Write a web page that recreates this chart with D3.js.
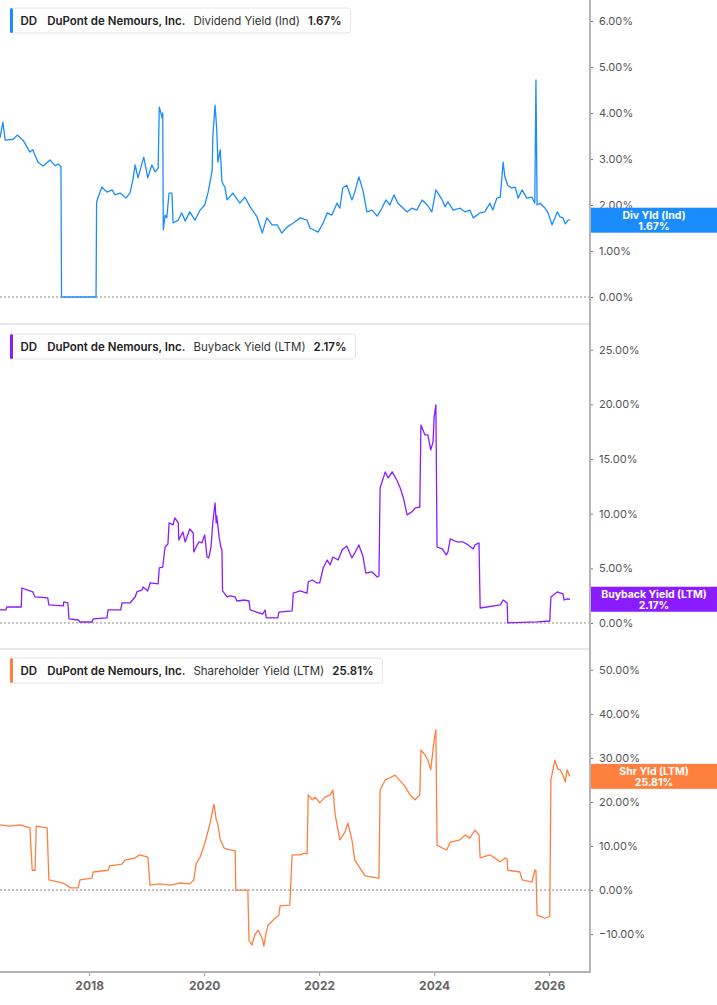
<!DOCTYPE html>
<html>
<head>
<meta charset="utf-8">
<script src="https://cdn.jsdelivr.net/npm/d3@7"></script>
<style>
  body { margin: 0; background: #fff; }
  svg { font-family: Inter, "Noto Sans", sans-serif; }
</style>
</head>
<body>
<svg width="717" height="1005"></svg>
<script>
// DuPont (DD) yields
var divYears = [2016.45,2016.50,2016.54,2016.68,2016.75,2016.85,2016.97,2017.02,2017.11,2017.20,
  2017.32,2017.41,2017.46,2017.51,2017.52,2018.12,2018.13,2018.14,2018.22,2018.31,
  2018.40,2018.45,2018.54,2018.64,2018.71,2018.76,2018.80,2018.85,2018.95,2019.02,
  2019.09,2019.15,2019.20,2019.22,2019.27,2019.28,2019.29,2019.32,2019.35,2019.39,
  2019.44,2019.46,2019.55,2019.61,2019.67,2019.75,2019.84,2019.93,2020.01,2020.07,
  2020.14,2020.15,2020.19,2020.22,2020.24,2020.28,2020.31,2020.36,2020.40,2020.50,
  2020.62,2020.71,2020.80,2020.92,2021.01,2021.09,2021.18,2021.27,2021.35,2021.44,
  2021.55,2021.67,2021.79,2021.84,2021.98,2022.07,2022.14,2022.22,2022.31,2022.36,
  2022.41,2022.48,2022.57,2022.62,2022.69,2022.76,2022.83,2022.92,2023.01,2023.09,
  2023.16,2023.23,2023.30,2023.37,2023.53,2023.61,2023.70,2023.79,2023.88,2023.96,
  2024.03,2024.14,2024.19,2024.24,2024.33,2024.45,2024.54,2024.62,2024.68,2024.80,
  2024.88,2024.97,2025.02,2025.09,2025.15,2025.20,2025.23,2025.28,2025.35,2025.41,
  2025.46,2025.53,2025.61,2025.70,2025.75,2025.77,2025.79,2025.84,2025.93,2025.98,
  2026.05,2026.10,2026.14,2026.19,2026.24,2026.28,2026.33,2026.36];
var divYield = [3.46,3.80,3.41,3.43,3.52,3.41,3.15,3.20,2.93,2.85,
  2.98,2.85,2.89,2.83,0,0,2.04,2.11,2.39,2.28,
  2.33,2.22,2.26,2.15,2.26,2.54,2.87,2.59,3.04,2.59,
  2.87,2.72,2.80,4.13,3.89,4.00,1.46,1.78,1.72,2.26,
  2.26,1.61,1.67,1.83,1.65,1.85,1.67,1.89,2.00,2.28,
  2.76,3.48,4.17,3.63,2.93,3.20,2.50,2.39,2.11,2.26,
  2.04,2.17,1.96,1.74,1.39,1.72,1.57,1.57,1.39,1.52,
  1.61,1.72,1.67,1.50,1.41,1.61,1.83,1.78,2.04,1.93,
  2.37,2.43,2.11,2.28,2.61,2.33,1.85,1.89,1.76,1.93,
  2.11,2.00,2.22,2.04,1.85,1.93,1.89,2.11,2.00,1.85,
  2.33,2.11,1.96,2.07,1.89,1.93,1.85,1.89,1.72,1.83,
  1.85,2.04,1.89,2.15,2.17,2.93,2.61,2.43,2.37,2.39,
  2.15,2.33,2.15,2.17,2.04,4.72,2.00,2.04,1.93,1.83,
  1.57,1.72,1.85,1.74,1.72,1.59,1.67,1.67];

var bbYears = [2016.45,2016.55,2016.57,2016.82,2016.83,2016.92,2017.02,2017.06,2017.28,2017.30,
  2017.55,2017.56,2017.63,2017.65,2017.81,2017.84,2018.05,2018.07,2018.31,2018.33,
  2018.55,2018.57,2018.71,2018.80,2018.83,2018.92,2018.94,2019.02,2019.06,2019.20,
  2019.22,2019.28,2019.32,2019.37,2019.39,2019.46,2019.49,2019.55,2019.56,2019.63,
  2019.67,2019.75,2019.81,2019.82,2019.88,2019.91,2019.96,2020.01,2020.05,2020.08,
  2020.12,2020.15,2020.19,2020.21,2020.22,2020.26,2020.29,2020.31,2020.32,2020.40,
  2020.45,2020.54,2020.57,2020.71,2020.78,2020.80,2021.02,2021.06,2021.08,2021.28,
  2021.30,2021.53,2021.55,2021.67,2021.79,2021.81,2021.88,2021.96,2022.01,2022.07,
  2022.14,2022.19,2022.24,2022.33,2022.40,2022.48,2022.57,2022.62,2022.69,2022.76,
  2022.81,2022.92,2023.01,2023.04,2023.06,2023.15,2023.20,2023.27,2023.35,2023.41,
  2023.46,2023.53,2023.61,2023.67,2023.75,2023.77,2023.84,2023.89,2023.94,2023.98,
  2024.00,2024.03,2024.05,2024.14,2024.21,2024.24,2024.28,2024.40,2024.50,2024.59,
  2024.68,2024.71,2024.78,2024.80,2025.15,2025.20,2025.27,2025.28,2025.79,2026.01,
  2026.03,2026.14,2026.24,2026.26,2026.31,2026.36];
var bbYield = [1.19,1.19,1.46,1.46,3.20,3.02,2.84,2.38,2.29,1.65,
  1.56,1.92,1.83,0.37,0.27,0.09,0.09,0.37,0.46,1.19,
  1.19,1.83,1.83,2.38,2.84,3.02,3.29,2.93,3.66,3.57,
  5.03,5.12,6.95,7.23,9.15,8.97,9.61,9.15,7.59,8.33,
  7.41,8.60,8.23,6.50,7.14,7.41,7.32,8.05,6.04,5.95,
  6.95,9.15,10.98,9.15,9.79,7.87,6.95,6.68,2.93,2.38,
  2.47,2.38,2.01,2.10,2.01,1.19,0.82,1.19,0.46,0.46,
  1.00,1.10,2.74,2.93,2.74,3.75,3.93,3.66,3.66,5.03,
  5.76,5.31,6.04,5.76,6.68,7.04,5.95,6.40,7.14,6.13,
  4.57,4.67,4.20,4.30,12.35,13.82,13.26,13.82,13.08,12.35,
  11.53,9.88,10.16,10.52,10.61,18.12,17.20,17.20,15.83,16.56,
  18.85,19.95,6.95,6.77,6.22,6.50,7.69,7.41,7.41,7.14,
  6.77,7.14,7.32,1.37,1.65,2.10,1.83,0,0.10,0.18,
  2.38,2.84,2.66,2.10,2.20,2.17];

var shrYears = [2016.45,2016.62,2016.80,2016.97,2017.01,2017.06,2017.08,2017.27,2017.30,2017.55,
  2017.63,2017.67,2017.81,2017.84,2018.05,2018.07,2018.33,2018.36,2018.57,2018.62,
  2018.80,2018.88,2019.02,2019.06,2019.23,2019.41,2019.58,2019.75,2019.82,2019.86,
  2019.93,2020.01,2020.10,2020.17,2020.21,2020.24,2020.28,2020.35,2020.45,2020.54,
  2020.55,2020.76,2020.78,2020.83,2020.88,2020.94,2021.01,2021.04,2021.08,2021.11,
  2021.23,2021.30,2021.32,2021.49,2021.53,2021.67,2021.75,2021.79,2021.81,2021.88,
  2021.93,2022.01,2022.10,2022.19,2022.24,2022.28,2022.36,2022.45,2022.50,2022.57,
  2022.62,2022.80,2023.02,2023.04,2023.06,2023.15,2023.23,2023.32,2023.41,2023.49,
  2023.58,2023.67,2023.75,2023.77,2023.84,2023.89,2023.94,2024.00,2024.03,2024.05,
  2024.15,2024.22,2024.28,2024.45,2024.54,2024.62,2024.71,2024.78,2024.80,2024.97,
  2025.15,2025.23,2025.27,2025.28,2025.49,2025.53,2025.70,2025.75,2025.77,2025.79,
  2025.93,2026.01,2026.03,2026.10,2026.15,2026.19,2026.24,2026.28,2026.31,2026.36];
var shrYield = [14.8,14.5,14.8,14.1,4.5,4.5,14.5,14.1,2.3,1.6,
  0.9,0.5,0.5,2.3,2.7,4.1,4.5,5.5,5.9,6.8,
  7.3,8.0,7.5,1.1,1.4,1.1,1.6,1.4,2.3,6.0,
  7.5,10.5,15.0,19.5,16.0,14.8,11.4,9.5,9.1,8.9,
  0,0,-11.4,-12.5,-10.2,-9.1,-11.0,-12.7,-9.5,-8.0,
  -6.4,-5.7,-3.6,-3.4,8.0,8.0,8.4,8.2,21.6,20.5,
  21.1,19.8,21.1,21.6,22.7,17.0,11.4,13.2,15.2,11.4,
  6.8,3.2,2.7,2.7,22.7,25.0,25.5,26.1,24.8,23.6,
  21.6,20.5,21.6,31.8,30.7,29.5,27.3,34.1,36.4,10.2,
  9.5,9.1,10.9,11.4,12.5,11.8,13.6,12.5,7.3,8.0,
  6.4,7.3,7.0,4.5,4.1,2.3,1.8,4.5,4.5,-5.7,
  -6.4,-6.0,25.0,29.5,27.5,27.3,26.1,24.5,27.3,25.81];

var yearTicks = [2018, 2020, 2022, 2024, 2026];
var divTicks = [0, 1, 2, 3, 4, 5, 6];
var bbTicks = [0, 5, 10, 15, 20, 25];
var shrTicks = [-10, 0, 10, 20, 30, 40, 50];
var divDomain = [-0.565, 6.457];
var bbDomain = [-2.29, 27.26];
var shrDomain = [-18.6, 54.5];

var svg = d3.select("svg");
var plotRight = 590;
var x = d3.scaleLinear().domain([2016.45, 2026.71]).range([0, plotRight]);

var panels = [
  {years: divYears, values: divYield, ticks: divTicks, domain: divDomain, top: 0, bottom: 323,
   color: "#1a8cff", name: "Dividend Yield (Ind)", tag: "Div Yld (Ind)", legendY: 8},
  {years: bbYears, values: bbYield, ticks: bbTicks, domain: bbDomain, top: 325, bottom: 648,
   color: "#8a1cff", name: "Buyback Yield (LTM)", tag: "Buyback Yield (LTM)", legendY: 334},
  {years: shrYears, values: shrYield, ticks: shrTicks, domain: shrDomain, top: 650, bottom: 972,
   color: "#ff7f3f", name: "Shareholder Yield (LTM)", tag: "Shr Yld (LTM)", legendY: 658}
];

var pct = function(v){ return d3.format(".2f")(v) + "%"; };

panels.forEach(function(p, idx){
  var y = d3.scaleLinear().domain(p.domain).range([p.bottom, p.top]);

  // panel separator
  if (idx < panels.length - 1) {
    svg.append("line")
      .attr("x1", 0).attr("x2", plotRight)
      .attr("y1", p.bottom + 1).attr("y2", p.bottom + 1)
      .attr("stroke", "#cfcfcf").attr("stroke-width", 1);
  }

  // zero line
  svg.append("line")
    .attr("x1", 0).attr("x2", plotRight)
    .attr("y1", y(0)).attr("y2", y(0))
    .attr("stroke", "#8a8a8a").attr("stroke-width", 1)
    .attr("stroke-dasharray", "2,2");

  var pts = p.years.map(function(yr, i){ return [yr, p.values[i]]; });
  var line = d3.line()
    .x(function(d){ return x(d[0]); })
    .y(function(d){ return y(d[1]); });
  svg.append("path")
    .datum(pts)
    .attr("d", line)
    .attr("fill", "none")
    .attr("stroke", p.color)
    .attr("stroke-width", 1.3)
    .attr("stroke-linejoin", "round");

  // right axis
  var ax = svg.append("g")
    .attr("transform", "translate(" + plotRight + ",0)")
    .call(d3.axisRight(y).tickValues(p.ticks).tickFormat(pct).tickSize(3).tickPadding(6));
  ax.select(".domain").remove();
  ax.selectAll(".tick line").attr("stroke", "#777");
  ax.selectAll(".tick text").attr("fill", "#555").style("font-size", "11px")
    .style("font-family", "Inter, sans-serif");

  // legend box
  var last = p.values[p.values.length - 1];
  var lg = svg.append("g").attr("transform", "translate(10," + p.legendY + ")");
  var box = lg.append("rect")
    .attr("x", 0).attr("y", 0).attr("height", 25).attr("rx", 3)
    .attr("fill", "#fff").attr("stroke", "#e4e4e4");
  lg.append("rect").attr("x", 0).attr("y", 0).attr("width", 3).attr("height", 25)
    .attr("rx", 1.5).attr("fill", p.color);
  var parts = [
    {t: "DD", w: 600, c: "#222"},
    {t: "DuPont de Nemours, Inc.", w: 600, c: "#222"},
    {t: p.name, w: 400, c: "#333"},
    {t: pct(last), w: 600, c: "#222"}
  ];
  var cx = 10.5;
  parts.forEach(function(pt, j){
    var t = lg.append("text")
      .attr("x", cx).attr("y", 17)
      .attr("fill", pt.c)
      .style("font-size", "11.5px")
      .style("font-weight", pt.w)
      .text(pt.t);
    cx += t.node().getComputedTextLength() + (j === 0 ? 10 : 8);
  });
  box.attr("width", cx + 1);

  // end value tag
  var cy = y(last);
  svg.append("rect")
    .attr("x", plotRight).attr("y", cy - 12.5)
    .attr("width", 717 - plotRight).attr("height", 25)
    .attr("fill", p.color);
  svg.append("text")
    .attr("x", 654).attr("y", cy - 1.5)
    .attr("text-anchor", "middle").attr("fill", "#fff")
    .style("font-size", "10.5px").style("font-weight", 700)
    .text(p.tag);
  svg.append("text")
    .attr("x", 654).attr("y", cy + 9.5)
    .attr("text-anchor", "middle").attr("fill", "#fff")
    .style("font-size", "10.5px").style("font-weight", 700)
    .text(pct(last));
});

// frame: right axis line and bottom axis
svg.append("line")
  .attr("x1", plotRight).attr("x2", plotRight)
  .attr("y1", 0).attr("y2", 973)
  .attr("stroke", "#b4b4b4").attr("stroke-width", 2);

var xa = svg.append("g")
  .attr("transform", "translate(0,972)")
  .call(d3.axisBottom(x).tickValues(yearTicks).tickFormat(d3.format("d")).tickSize(4).tickPadding(5));
xa.select(".domain").remove();
xa.selectAll(".tick line").attr("stroke", "#999");
xa.selectAll(".tick text").attr("fill", "#666")
  .style("font-size", "12px").style("font-weight", 700)
  .style("font-family", "Inter, sans-serif");
svg.append("line")
  .attr("x1", 0).attr("x2", plotRight + 1)
  .attr("y1", 972).attr("y2", 972)
  .attr("stroke", "#b4b4b4").attr("stroke-width", 2);
</script>
</body>
</html>
